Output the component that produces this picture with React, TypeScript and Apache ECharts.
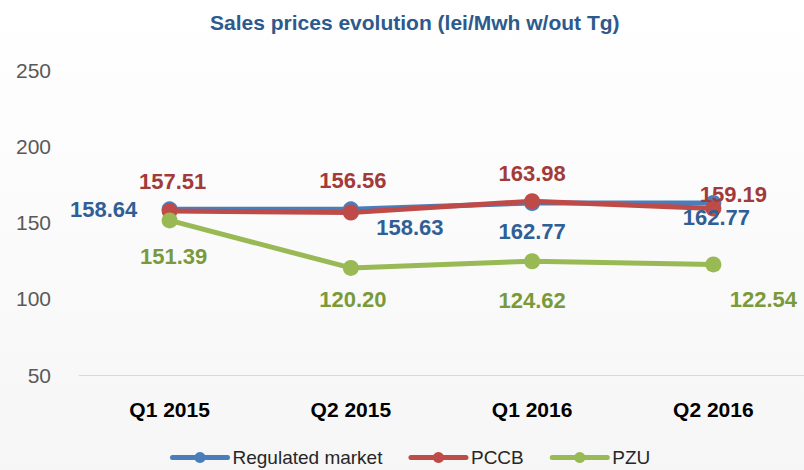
import React, { useEffect, useRef } from "react";
import * as echarts from "echarts";

const categories = ["Q1 2015", "Q2 2015", "Q1 2016", "Q2 2016"];
const regulatedMarket = [158.64, 158.63, 162.77, 162.77];
const pccb = [157.51, 156.56, 163.98, 159.19];
const pzu = [151.39, 120.2, 124.62, 122.54];

const regOffsets = [[-66, 0], [59, 18], [0, 28], [3, 14]];
const pccbOffsets = [[3, -30], [2, -32], [0, -28], [20, -14]];
const pzuOffsets = [[4, 36], [2, 32], [0, 39], [50, 35]];

const FONT = "'Liberation Sans', 'Noto Sans', sans-serif";

function buildData(values: number[], offsets: number[][]) {
  return values.map((v, i) => ({
    value: v,
    label: { offset: offsets[i] },
  }));
}

function makeSeries(name: string, values: number[], offsets: number[][], lineColor: string, labelColor: string) {
  return {
    name,
    type: "line",
    data: buildData(values, offsets),
    symbol: "circle",
    symbolSize: 16,
    lineStyle: { color: lineColor, width: 5, cap: "round" },
    itemStyle: { color: lineColor },
    label: {
      show: true,
      position: "inside",
      formatter: (p: any) => p.value.toFixed(2),
      color: labelColor,
      fontFamily: FONT,
      fontWeight: "bold",
      fontSize: 22,
    },
  };
}

export default function App() {
  const ref = useRef<HTMLDivElement>(null);
  useEffect(() => {
    document.body.style.margin = "0";
    if (!ref.current) return;
    const chart = echarts.init(ref.current, null, { renderer: "svg" });
    chart.setOption({
      animation: false,
      backgroundColor: {
        type: "linear",
        x: 0, y: 0, x2: 0, y2: 1,
        colorStops: [
          { offset: 0, color: "#ffffff" },
          { offset: 1, color: "#f6f6f6" },
        ],
      },
      title: {
        text: "Sales prices evolution (lei/Mwh w/out Tg)",
        left: 205,
        top: 7,
        textStyle: { fontFamily: FONT, fontWeight: "bold", fontSize: 21, color: "#2C5A8C" },
      },
      legend: {
        top: 443,
        left: 165,
        itemGap: 26,
        itemWidth: 55,
        itemHeight: 14,
        lineStyle: { width: 5 },
        textStyle: { fontFamily: FONT, fontSize: 19, color: "#262626" },
        data: ["Regulated market", "PCCB", "PZU"],
      },
      grid: { left: 79, top: 70, width: 730, height: 305 },
      xAxis: {
        type: "category",
        data: categories,
        axisLine: { lineStyle: { color: "#d9d9d9", width: 1 } },
        axisTick: { show: false },
        axisLabel: { fontFamily: FONT, fontWeight: "bold", fontSize: 21, color: "#000000", margin: 24 },
      },
      yAxis: {
        type: "value",
        min: 50,
        max: 250,
        interval: 50,
        axisLine: { show: false },
        axisTick: { show: false },
        splitLine: { show: false },
        axisLabel: { fontFamily: FONT, fontSize: 21, color: "#595959", margin: 28 },
      },
      series: [
        makeSeries("Regulated market", regulatedMarket, regOffsets, "#4A7EBB", "#2F5F97"),
        makeSeries("PCCB", pccb, pccbOffsets, "#BE4B48", "#A33A3A"),
        makeSeries("PZU", pzu, pzuOffsets, "#98B954", "#7A9A3A"),
      ],
    });
    return () => chart.dispose();
  }, []);
  return <div ref={ref} style={{ width: 804, height: 470 }} />;
}
